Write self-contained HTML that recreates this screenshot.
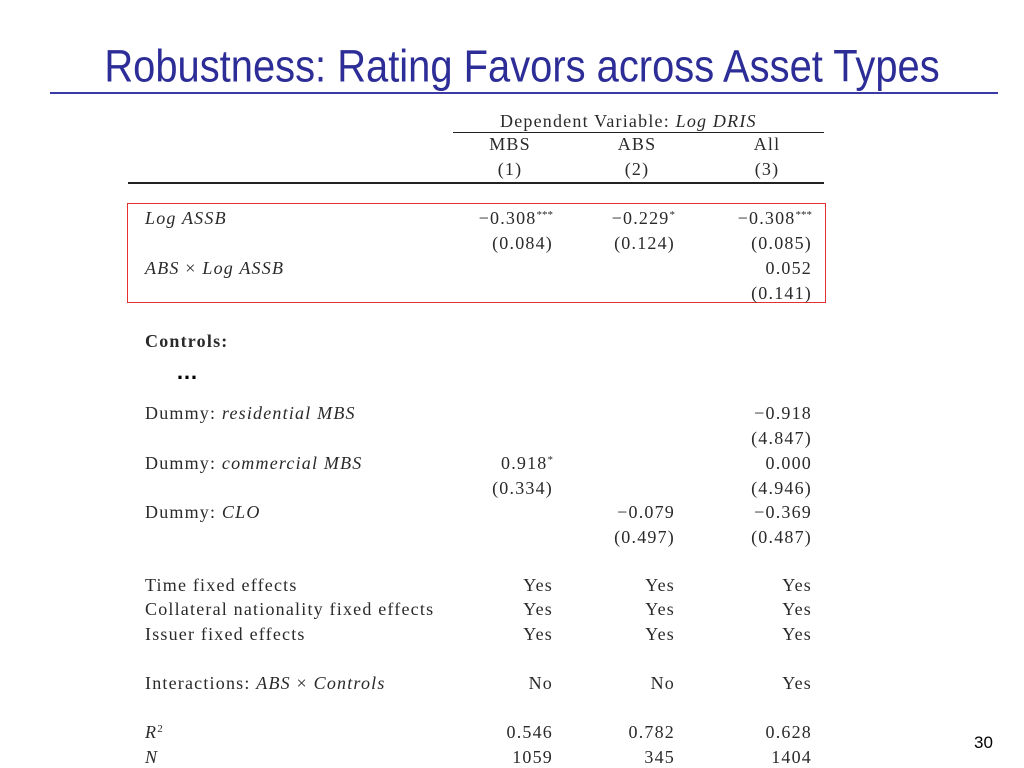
<!DOCTYPE html>
<html><head><meta charset="utf-8"><style>
body{margin:0;width:1024px;height:768px;background:#fff;position:relative;overflow:hidden;font-family:"Liberation Serif",serif;color:#2a2a2a}
.t{position:absolute;font-size:18px;line-height:20px;white-space:nowrap;letter-spacing:1.2px}
.l{left:145px}
.r1,.r2,.r3{text-align:right;width:140px}
.r1{left:413px}.r2{left:535px}.r3{left:672px}
.c{text-align:center;width:80px}
i{font-style:italic}
.s{position:relative;top:-6px;font-size:11px;line-height:0;letter-spacing:0}
.hl{position:absolute;background:#222}
</style></head><body>
<div style="position:absolute;left:0;width:1044px;top:44px;text-align:center;font-family:'Liberation Sans',sans-serif;font-size:38px;line-height:46px;color:#2d2d98;transform:scale(1.05,1.2);transform-origin:522px 23px">Robustness: Rating Favors across Asset Types</div>
<div style="position:absolute;left:50px;top:92px;width:948px;height:2px;background:#3a3aa8"></div>
<div class="t" style="left:500px;top:111px">Dependent Variable: <i>Log DRIS</i></div>
<div class="hl" style="left:453px;top:132px;width:371px;height:1px"></div>
<div class="t c" style="left:470px;top:134px">MBS</div>
<div class="t c" style="left:597px;top:134px">ABS</div>
<div class="t c" style="left:727px;top:134px">All</div>
<div class="t c" style="left:470px;top:159px">(1)</div>
<div class="t c" style="left:597px;top:159px">(2)</div>
<div class="t c" style="left:727px;top:159px">(3)</div>
<div class="hl" style="left:128px;top:182px;width:696px;height:2px"></div>
<div style="position:absolute;left:127px;top:203px;width:697px;height:98px;border:1px solid #e53030"></div>

<div class="t l" style="top:208px"><i>Log ASSB</i></div>
<div class="t r1" style="top:208px">−0.308<span class="s">***</span></div>
<div class="t r2" style="top:208px">−0.229<span class="s">*</span></div>
<div class="t r3" style="top:208px">−0.308<span class="s">***</span></div>
<div class="t r1" style="top:233px">(0.084)</div>
<div class="t r2" style="top:233px">(0.124)</div>
<div class="t r3" style="top:233px">(0.085)</div>
<div class="t l" style="top:258px"><i>ABS</i> × <i>Log ASSB</i></div>
<div class="t r3" style="top:258px">0.052</div>
<div class="t r3" style="top:283px">(0.141)</div>

<div class="t l" style="top:331px;font-weight:bold">Controls:</div>
<div class="t" style="left:176px;top:362px;font-family:'Liberation Sans',sans-serif;font-size:22px;font-weight:bold;color:#000;letter-spacing:0">…</div>

<div class="t l" style="top:403px">Dummy: <i>residential MBS</i></div>
<div class="t r3" style="top:403px">−0.918</div>
<div class="t r3" style="top:428px">(4.847)</div>
<div class="t l" style="top:453px">Dummy: <i>commercial MBS</i></div>
<div class="t r1" style="top:453px">0.918<span class="s">*</span></div>
<div class="t r3" style="top:453px">0.000</div>
<div class="t r1" style="top:478px">(0.334)</div>
<div class="t r3" style="top:478px">(4.946)</div>
<div class="t l" style="top:502px">Dummy: <i>CLO</i></div>
<div class="t r2" style="top:502px">−0.079</div>
<div class="t r3" style="top:502px">−0.369</div>
<div class="t r2" style="top:527px">(0.497)</div>
<div class="t r3" style="top:527px">(0.487)</div>

<div class="t l" style="top:575px">Time fixed effects</div>
<div class="t r1" style="top:575px">Yes</div>
<div class="t r2" style="top:575px">Yes</div>
<div class="t r3" style="top:575px">Yes</div>
<div class="t l" style="top:599px">Collateral nationality fixed effects</div>
<div class="t r1" style="top:599px">Yes</div>
<div class="t r2" style="top:599px">Yes</div>
<div class="t r3" style="top:599px">Yes</div>
<div class="t l" style="top:624px">Issuer fixed effects</div>
<div class="t r1" style="top:624px">Yes</div>
<div class="t r2" style="top:624px">Yes</div>
<div class="t r3" style="top:624px">Yes</div>
<div class="t l" style="top:673px">Interactions: <i>ABS</i> × <i>Controls</i></div>
<div class="t r1" style="top:673px">No</div>
<div class="t r2" style="top:673px">No</div>
<div class="t r3" style="top:673px">Yes</div>
<div class="t l" style="top:722px"><i>R</i><span class="s">2</span></div>
<div class="t r1" style="top:722px">0.546</div>
<div class="t r2" style="top:722px">0.782</div>
<div class="t r3" style="top:722px">0.628</div>
<div class="t l" style="top:747px"><i>N</i></div>
<div class="t r1" style="top:747px">1059</div>
<div class="t r2" style="top:747px">345</div>
<div class="t r3" style="top:747px">1404</div>

<div style="position:absolute;left:974px;top:733px;font-family:'Liberation Sans',sans-serif;font-size:17px;color:#000">30</div>
</body></html>
